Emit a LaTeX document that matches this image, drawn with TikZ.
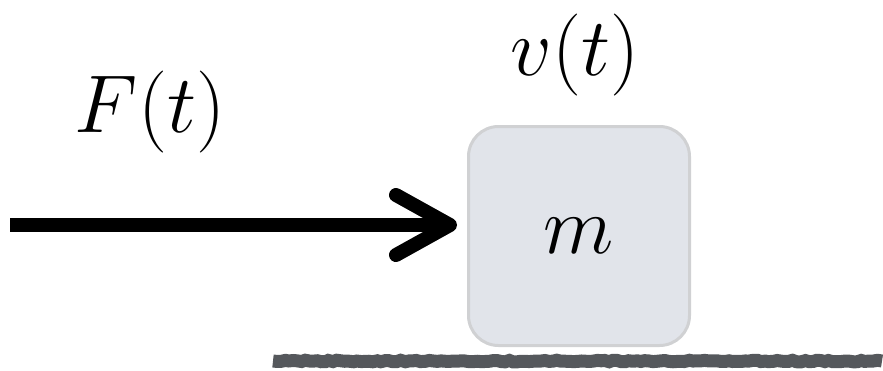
\RequirePackage{fix-cm}
\documentclass[tikz,border=0pt]{standalone}
\usepackage{amsmath}
\usetikzlibrary{arrows.meta,positioning,decorations.pathmorphing}
\definecolor{boxfill}{HTML}{E1E4EA}
\definecolor{boxline}{HTML}{D0D1D3}
\definecolor{groundgray}{HTML}{55585C}
\tikzset{
  block/.style={draw=boxline, line width=1.5pt, fill=boxfill, rounded corners=15pt,
    minimum width=110.5pt, minimum height=109.5pt, inner sep=0pt},
  lbl/.style={font=\fontsize{41}{48}\selectfont},
  force/.style={line width=7pt, shorten >=5pt,
    -{Straight Barb[length=27pt,width=30pt,round]}},
  floor/.style={groundgray, line width=6.5pt,
    decorate, decoration={random steps, segment length=2pt, amplitude=0.4pt}},
}
\begin{document}
\begin{tikzpicture}[x=0.5pt,y=-0.5pt]
\useasboundingbox (0,0) rectangle (883,370);
\node[name=mass, block, lbl] at (579,236) {$m$};
\node[name=vel, lbl, above of=mass, node distance=90.5pt, xshift=-2pt] {$v(t)$};
\node[name=force_lbl, lbl] at (150,112) {$F(t)$};
\coordinate (push) at (10,225);
\coordinate (ground_l) at (273,361);
\coordinate (ground_r) at (882,361);

\draw[force] (push) -- (push -| mass.west);
\draw[floor] (ground_l) -- (ground_r);
\end{tikzpicture}
\end{document}
